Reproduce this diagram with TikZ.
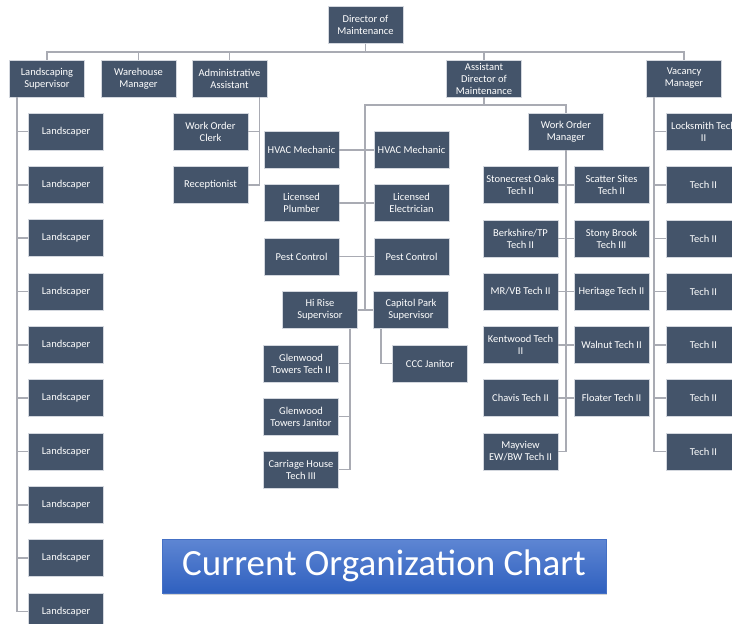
\documentclass[tikz,border=0pt]{standalone}
\usepackage{fontspec}
\setmainfont{Carlito}
\usetikzlibrary{shadows}
\definecolor{boxfill}{HTML}{44546A}
\definecolor{boxline}{HTML}{D3D7DE}
\definecolor{connclr}{HTML}{A9ABB3}
\definecolor{titletop}{HTML}{5E86D3}
\definecolor{titlebot}{HTML}{2F60BF}
\begin{document}
\begin{tikzpicture}[x=1pt,y=-1pt,
  box/.style={draw=boxline, line width=0.7pt, fill=boxfill, text=white,
    minimum width=75pt, minimum height=37pt, inner sep=0pt, align=center,
    font=\fontsize{10.5}{12}\selectfont,
    drop shadow={opacity=0.25, shadow xshift=0.8pt, shadow yshift=-0.8pt}},
  link/.style={draw=connclr, line width=1.4pt},
  titlebox/.style={top color=titletop, bottom color=titlebot, draw=titlebot!90!white,
    line width=0.5pt, text=white, minimum width=444pt, minimum height=54pt,
    inner sep=0pt, font=\fontsize{37}{40}\selectfont,
    drop shadow={opacity=0.35, shadow xshift=1pt, shadow yshift=-1.5pt}}]
\useasboundingbox (0,0) rectangle (732,624);
\clip (0,0) rectangle (732,624);

% top levels
\node[box] (dir) at (365.5,25) {Director of\\Maintenance};
\node[box] (land) at (47,78.5) {Landscaping\\Supervisor};
\node[box] (ware) at (138.5,78.5) {Warehouse\\Manager};
\node[box] (admin) at (229.5,78.5) {Administrative\\Assistant};
\node[box] (asst) at (484,78.5) {Assistant\\Director of\\Maintenance};
\node[box] (vac) at (684,78.5) {Vacancy\\Manager};

% landscapers
\foreach \i in {1,...,10}
  \node[box] (ls\i) at (66,{131.5+53.33*(\i-1)}) {Landscaper};

% admin children
\node[box] (woc) at (210.5,131.5) {Work Order\\Clerk};
\node[box] (recep) at (210.5,185) {Receptionist};

% assistant director, left group
\node[box] (hvacL) at (301.5,150) {HVAC Mechanic};
\node[box] (hvacR) at (411.5,150) {HVAC Mechanic};
\node[box] (plumb) at (301.5,203) {Licensed\\Plumber};
\node[box] (elec) at (411.5,203) {Licensed\\Electrician};
\node[box] (pestL) at (301.5,256.5) {Pest Control};
\node[box] (pestR) at (411.5,256.5) {Pest Control};
\node[box] (hirise) at (320,310) {Hi Rise\\Supervisor};
\node[box] (capit) at (411,310) {Capitol Park\\Supervisor};
\node[box] (ccc) at (430,363.5) {CCC Janitor};
\node[box] (glenT) at (301,363.5) {Glenwood\\Towers Tech II};
\node[box] (glenJ) at (301,416.5) {Glenwood\\Towers Janitor};
\node[box] (carr) at (301,469.5) {Carriage House\\Tech III};

% work order manager group
\node[box] (wom) at (566,131.5) {Work Order\\Manager};
\node[box] (w1L) at (520.5,185) {Stonecrest Oaks\\Tech II};
\node[box] (w1R) at (611.5,185) {Scatter Sites\\Tech II};
\node[box] (w2L) at (520.5,238.5) {Berkshire/TP\\Tech II};
\node[box] (w2R) at (611.5,238.5) {Stony Brook\\Tech III};
\node[box] (w3L) at (520.5,291.5) {MR/VB Tech II};
\node[box] (w3R) at (611.5,291.5) {Heritage Tech II};
\node[box] (w4L) at (520.5,345) {Kentwood Tech\\II};
\node[box] (w4R) at (611.5,345) {Walnut Tech II};
\node[box] (w5L) at (520.5,398) {Chavis Tech II};
\node[box] (w5R) at (611.5,398) {Floater Tech II};
\node[box] (w6L) at (520.5,451.5) {Mayview\\EW/BW Tech II};

% vacancy manager group
\node[box] (vc1) at (703.5,131.5) {Locksmith Tech\\II};
\node[box] (vc2) at (703.5,185) {Tech II};
\node[box] (vc3) at (703.5,238.5) {Tech II};
\node[box] (vc4) at (703.5,291.5) {Tech II};
\node[box] (vc5) at (703.5,345) {Tech II};
\node[box] (vc6) at (703.5,398) {Tech II};
\node[box] (vc7) at (703.5,451.5) {Tech II};

% title
\node[titlebox] (ttl) at (384,566) {Current Organization Chart};

% connectors: director bus
\coordinate (bus1) at (0,52);
\draw[link] (dir.south) -- (dir.south |- bus1);
\draw[link] (land.north) -- (land.north |- bus1) -- (vac.north |- bus1) -- (vac.north);
\draw[link] (ware.north) -- (ware.north |- bus1);
\draw[link] (admin.north) -- (admin.north |- bus1);
\draw[link] (asst.north) -- (asst.north |- bus1);

% landscaping
\foreach \i in {1,...,10}
  \draw[link] ([xshift=-30pt]land.south) |- (ls\i.west);

% admin
\draw[link] ([xshift=-8pt]admin.south east) |- (woc.east);
\draw[link] ([xshift=-8pt]admin.south east) |- (recep.east);

% assistant director
\coordinate (bus2) at (0,105);
\coordinate (spine) at (365,105);
\draw[link] (asst.south) -- (asst.south |- bus2);
\draw[link] (wom.north) -- (wom.north |- bus2) -- (spine) -- (spine |- hirise.east);
\draw[link] (hvacL.east) -- (hvacR.west);
\draw[link] (plumb.east) -- (elec.west);
\draw[link] (pestL.east) -- (pestR.west);
\draw[link] (hirise.east) -- (capit.west);
\draw[link] ([xshift=-30pt]capit.south) |- (ccc.west);
\draw[link] ([xshift=30pt]hirise.south) |- (glenT.east);
\draw[link] ([xshift=30pt]hirise.south) |- (glenJ.east);
\draw[link] ([xshift=30pt]hirise.south) |- (carr.east);

% work order manager
\draw[link] (wom.south) |- (w6L.east);
\foreach \i in {1,...,5}
  \draw[link] (w\i L.east) -- (w\i R.west);

% vacancy manager
\foreach \i in {1,...,7}
  \draw[link] ([xshift=-30pt]vac.south) |- (vc\i.west);
\end{tikzpicture}
\end{document}
